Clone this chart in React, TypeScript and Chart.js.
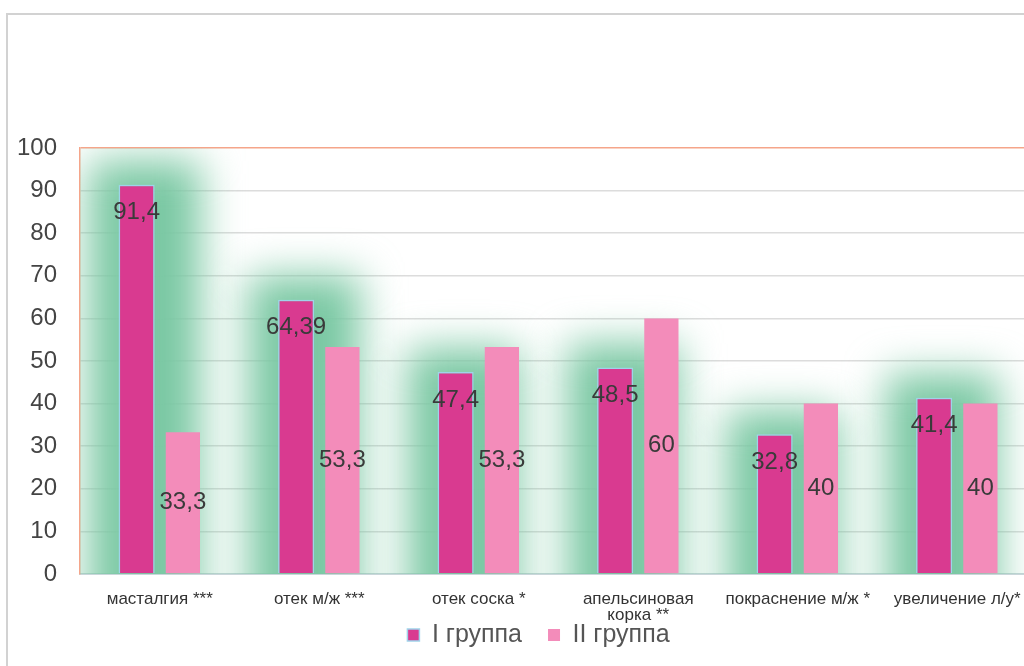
import React, { useEffect, useRef } from "react";
import { Chart, registerables } from "chart.js";

Chart.register(...registerables);

const categories: (string | string[])[] = [
  "масталгия ***",
  "отек м/ж ***",
  "отек соска *",
  ["апельсиновая", "корка **"],
  "покраснение м/ж *",
  "увеличение л/у*",
];
const groupI = [91.4, 64.39, 47.4, 48.5, 32.8, 41.4];
const groupII = [33.3, 53.3, 53.3, 60, 40, 40];
const seriesNames = ["I группа", "II группа"];
const yTicks = [0, 10, 20, 30, 40, 50, 60, 70, 80, 90, 100];

const FONT = "'Liberation Sans', Arial, sans-serif";
const ORANGE = "#f5a58a";
const LEGEND_PAD = 26;
const LEGEND_FONT = 25;
const LEGEND_CENTER_Y = 635;
const LEGEND_CENTER_X = 538.5;

const fmt = (v: number) => String(v).replace(".", ",");

const haloPlugin = {
  id: "halo",
  beforeDatasetsDraw(chart: any) {
    const { ctx, chartArea } = chart;
    const meta = chart.getDatasetMeta(0);
    ctx.save();
    ctx.beginPath();
    ctx.rect(chartArea.left, chartArea.top, chartArea.right - chartArea.left, chartArea.bottom - chartArea.top);
    ctx.clip();
    ctx.filter = "blur(20px)";
    ctx.fillStyle = "rgb(122, 200, 163)";
    meta.data.forEach((el: any) => {
      const w = el.width;
      const cx = el.x + 8;
      const half = w / 2 + 38;
      const top = el.y - 24;
      ctx.fillRect(cx - half, top, half * 2, el.base - top + 50);
    });
    ctx.restore();
  },
};

const labelPlugin = {
  id: "valueLabels",
  afterDatasetsDraw(chart: any) {
    const { ctx } = chart;
    ctx.save();
    ctx.font = `24px ${FONT}`;
    ctx.fillStyle = "#3a3a3a";
    ctx.textAlign = "center";
    ctx.textBaseline = "middle";
    chart.data.datasets.forEach((ds: any, di: number) => {
      const meta = chart.getDatasetMeta(di);
      meta.data.forEach((el: any, i: number) => {
        const v = ds.data[i];
        const y = di === 0 ? el.y + 28 : (el.y + el.base) / 2;
        ctx.fillText(fmt(v), el.x, y);
      });
    });
    ctx.restore();
  },
};

const legendPlacePlugin = {
  id: "legendPlace",
  beforeLayout(chart: any) {
    const lg = chart.legend;
    if (lg && !lg.__wrapped) {
      const orig = lg.fit;
      lg.fit = function () {
        orig.call(this);
        this.height = 32;
      };
      lg.__wrapped = true;
    }
  },
  afterLayout(chart: any) {
    const lg = chart.legend;
    if (!lg) return;
    const w = lg.right - lg.left;
    lg.left = LEGEND_CENTER_X - w / 2;
    lg.right = LEGEND_CENTER_X + w / 2;
    lg.top = LEGEND_CENTER_Y - LEGEND_PAD - LEGEND_FONT / 2;
    lg.bottom = lg.top + 90;
    lg.height = 90;
  },
};

export default function App() {
  const ref = useRef<HTMLCanvasElement | null>(null);
  useEffect(() => {
    if (!ref.current) return;
    const chart = new Chart(ref.current, {
      type: "bar",
      data: {
        labels: categories,
        datasets: [
          {
            label: seriesNames[0],
            data: groupI,
            backgroundColor: "#d93a90",
            borderColor: "#9fd3ea",
            borderWidth: 1.5,
            barPercentage: 0.78,
            categoryPercentage: 0.58,
          },
          {
            label: seriesNames[1],
            data: groupII,
            backgroundColor: "#f38cba",
            borderWidth: 0,
            barPercentage: 0.74,
            categoryPercentage: 0.58,
          },
        ],
      },
      options: {
        animation: false,
        responsive: true,
        maintainAspectRatio: false,
        layout: { padding: { top: 148, left: 0, right: 40, bottom: 0 } },
        plugins: {
          legend: {
            position: "bottom",
            labels: {
              font: { family: FONT, size: LEGEND_FONT },
              color: "#555",
              boxWidth: 12,
              boxHeight: 12,
              padding: LEGEND_PAD,
            },
          },
          tooltip: { enabled: false },
        },
        scales: {
          x: {
            afterFit: (scale: any) => {
              scale.height = 60;
            },
            grid: { display: false, drawTicks: false },
            border: { display: true, color: "#c9d6da", width: 2 },
            ticks: {
              font: { family: FONT, size: 17, lineHeight: 0.9 },
              color: "#333",
              padding: 18,
              maxRotation: 0,
              autoSkip: false,
            },
          },
          y: {
            min: 0,
            max: 100,
            afterFit: (scale: any) => {
              scale.width = 80;
            },
            afterBuildTicks: (scale: any) => {
              scale.ticks = yTicks.map((v) => ({ value: v }));
            },
            grid: {
              drawTicks: false,
              color: (c: any) => (c.tick && c.tick.value === 100 ? ORANGE : "#dcdcdc"),
              lineWidth: 1.5,
            },
            border: { display: true, color: ORANGE, width: 1.5 },
            ticks: {
              font: { family: FONT, size: 24 },
              color: "#444",
              padding: 23,
            },
          },
        },
      },
      plugins: [legendPlacePlugin, haloPlugin, labelPlugin],
    });
    return () => chart.destroy();
  }, []);

  return (
    <div style={{ position: "fixed", left: 0, top: 0, width: 1024, height: 666, overflow: "hidden", background: "#fff" }}>
      <div
        style={{
          position: "absolute",
          left: 6,
          top: 13,
          width: 1200,
          height: 800,
          borderLeft: "2px solid #d2d2d2",
          borderTop: "2px solid #d2d2d2",
        }}
      />
      <div style={{ position: "absolute", left: 0, top: 0, width: 1077, height: 666 }}>
        <canvas ref={ref} />
      </div>
    </div>
  );
}
